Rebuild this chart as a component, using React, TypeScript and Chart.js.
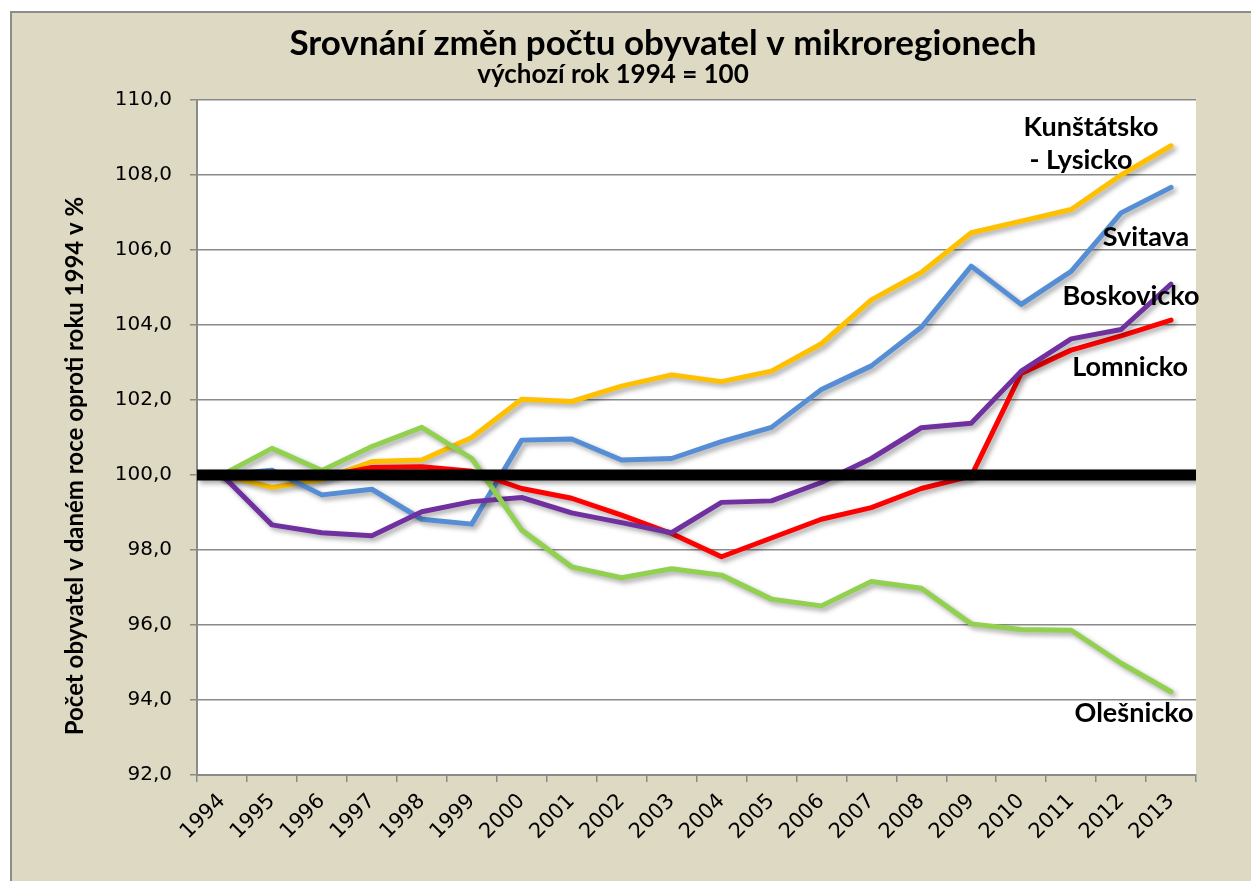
import React, { useEffect, useRef } from "react";
import { Chart, registerables } from "chart.js";

Chart.register(...registerables);

const years = ["1994","1995","1996","1997","1998","1999","2000","2001","2002","2003","2004","2005","2006","2007","2008","2009","2010","2011","2012","2013"];

const kunstatsko = [100, 99.67, 99.88, 100.36, 100.4, 101.0, 102.02, 101.96, 102.37, 102.67, 102.49, 102.77, 103.5, 104.67, 105.4, 106.46, 106.77, 107.08, 108.0, 108.78];
const svitava = [100, 100.13, 99.47, 99.62, 98.82, 98.69, 100.93, 100.96, 100.4, 100.44, 100.89, 101.27, 102.28, 102.91, 103.94, 105.57, 104.55, 105.43, 106.99, 107.67];
const boskovicko = [100, 98.67, 98.46, 98.38, 99.02, 99.29, 99.4, 98.99, 98.73, 98.46, 99.27, 99.31, 99.8, 100.44, 101.26, 101.38, 102.77, 103.63, 103.88, 105.09];
const lomnicko = [100, 100.0, 99.95, 100.2, 100.22, 100.1, 99.64, 99.38, 98.93, 98.44, 97.82, 98.32, 98.82, 99.13, 99.64, 99.97, 102.71, 103.33, 103.71, 104.13];
const olesnicko = [100, 100.71, 100.12, 100.76, 101.27, 100.44, 98.53, 97.55, 97.26, 97.5, 97.33, 96.69, 96.51, 97.16, 96.98, 96.03, 95.88, 95.86, 94.98, 94.22];
const baseline = [100, 100];

const titleText = "Srovnání změn počtu obyvatel v mikroregionech";
const subtitleText = "výchozí rok 1994 = 100";
const yTitleText = "Počet obyvatel v daném roce oproti roku 1994 v %";

// series labels: text lines, and placement relative to the series' last point
const seriesLabels: Record<string, { lines: string[]; dx: number[]; dy: number[] }> = {
  "Kunštátsko - Lysicko": { lines: ["Kunštátsko", "- Lysicko"], dx: [-80, -90], dy: [-10, 23] },
  "Svitava": { lines: ["Svitava"], dx: [-25], dy: [59] },
  "Boskovicko": { lines: ["Boskovicko"], dx: [-40], dy: [21] },
  "Lomnicko": { lines: ["Lomnicko"], dx: [-41], dy: [56] },
  "Olešnicko": { lines: ["Olešnicko"], dx: [-37], dy: [30] },
};

const BOLD = "Lato, 'Open Sans', sans-serif";
const TICKFONT = "'DejaVu Sans', sans-serif";

const shadowPlugin = {
  id: "lineShadow",
  beforeDatasetDraw(chart: any) {
    const ctx = chart.ctx;
    ctx.save();
    ctx.shadowColor = "rgba(0,0,0,0.35)";
    ctx.shadowBlur = 5;
    ctx.shadowOffsetX = 3;
    ctx.shadowOffsetY = 3;
  },
  afterDatasetDraw(chart: any) {
    chart.ctx.restore();
  },
};

const textPlugin = {
  id: "texts",
  afterDraw(chart: any) {
    const ctx = chart.ctx;
    ctx.save();
    ctx.fillStyle = "#000";
    ctx.textAlign = "center";
    ctx.textBaseline = "alphabetic";
    ctx.font = `bold 35px ${BOLD}`;
    ctx.fillText(titleText, 651, 42);
    ctx.font = `bold 26px ${BOLD}`;
    ctx.fillText(subtitleText, 601, 70);

    ctx.save();
    ctx.translate(63, 453);
    ctx.rotate(-Math.PI / 2);
    ctx.textBaseline = "middle";
    ctx.font = `bold 24px ${BOLD}`;
    ctx.fillText(yTitleText, 0, 0);
    ctx.restore();

    ctx.font = `bold 27px ${BOLD}`;
    ctx.textBaseline = "alphabetic";
    chart.data.datasets.forEach((ds: any, i: number) => {
      const cfg = seriesLabels[ds.label];
      if (!cfg) return;
      const meta = chart.getDatasetMeta(i);
      const pt = meta.data[meta.data.length - 1];
      cfg.lines.forEach((line, k) => {
        ctx.fillText(line, pt.x + cfg.dx[k], pt.y + cfg.dy[k]);
      });
    });
    ctx.restore();
  },
};

export default function App() {
  const ref = useRef<HTMLCanvasElement>(null);

  useEffect(() => {
    if (!ref.current) return;
    const lineStyle = (color: string) => ({
      borderColor: color,
      backgroundColor: color,
      borderWidth: 5,
      pointRadius: 0,
      tension: 0,
      fill: false,
      borderJoinStyle: "round" as const,
      borderCapStyle: "round" as const,
    });
    const chart = new Chart(ref.current, {
      type: "line",
      data: {
        labels: years,
        datasets: [
          {
            label: "100",
            data: baseline.map((v, i) => ({ x: i, y: v })),
            xAxisID: "x2",
            borderColor: "#000",
            borderWidth: 11,
            pointRadius: 0,
            borderCapStyle: "butt",
          } as any,
          { label: "Olešnicko", data: olesnicko, ...lineStyle("#92D050") },
          { label: "Boskovicko", data: boskovicko, ...lineStyle("#7030A0") },
          { label: "Lomnicko", data: lomnicko, ...lineStyle("#FF0000") },
          { label: "Svitava", data: svitava, ...lineStyle("#558ED5") },
          { label: "Kunštátsko - Lysicko", data: kunstatsko, ...lineStyle("#FFC000") },
        ],
      },
      options: {
        responsive: false,
        animation: false,
        layout: { padding: { left: 0, top: 87, right: 55, bottom: 0 } },
        plugins: {
          legend: { display: false },
          tooltip: { enabled: false },
          title: { display: false },
        },
        scales: {
          x: {
            type: "category",
            offset: true,
            afterFit: (s: any) => { s.height = 106; },
            grid: {
              offset: true,
              drawOnChartArea: false,
              drawTicks: true,
              tickLength: 7,
              color: "#8a8a8a",
              lineWidth: 1.5,
            },
            border: { color: "#8a8a8a", width: 2 },
            ticks: {
              autoSkip: false,
              minRotation: 45,
              maxRotation: 45,
              padding: 7,
              color: "#000",
              font: { family: TICKFONT, size: 21 },
            },
          },
          x2: {
            type: "linear",
            display: false,
            min: 0,
            max: 1,
            offset: false,
          },
          y: {
            min: 92,
            max: 110,
            afterFit: (s: any) => { s.width = 185; },
            ticks: {
              stepSize: 2,
              padding: 18,
              color: "#000",
              font: { family: TICKFONT, size: 20 },
              callback: (v: any) => Number(v).toFixed(1).replace(".", ","),
            },
            grid: { color: "#8a8a8a", lineWidth: 1.5, tickLength: 7 },
            border: { color: "#8a8a8a", width: 2 },
          },
        },
      },
      plugins: [shadowPlugin, textPlugin],
    });
    return () => chart.destroy();
  }, []);

  return (
    <div
      style={{
        position: "absolute",
        left: 10,
        top: 11,
        width: 1241,
        height: 870,
        boxSizing: "border-box",
        borderLeft: "2px solid #8c8c8c",
        borderTop: "2px solid #8c8c8c",
        background: "#DDD9C3",
        overflow: "hidden",
      }}
    >
      <div style={{ position: "absolute", left: 185, top: 87, width: 999, height: 675, background: "#fff" }} />
      <canvas ref={ref} width={1239} height={868} style={{ position: "absolute", left: 0, top: 0, display: "block" }} />
    </div>
  );
}
